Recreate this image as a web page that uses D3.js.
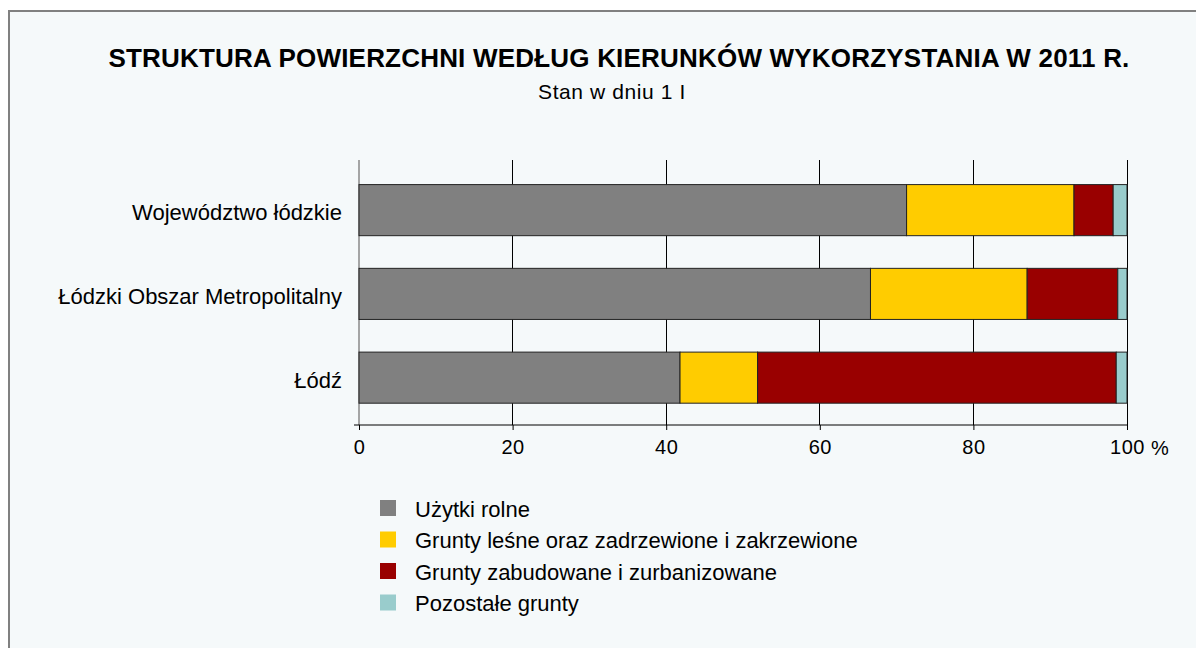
<!DOCTYPE html>
<html>
<head>
<meta charset="utf-8">
<script src="https://cdn.jsdelivr.net/npm/d3@7"></script>
<style>
  html, body { margin: 0; padding: 0; background: #ffffff; }
  svg { display: block; font-family: "Liberation Sans", Arial, sans-serif; }
</style>
</head>
<body>
<svg id="chart" width="1196" height="648"></svg>
<script>
const titleText = "STRUKTURA POWIERZCHNI WEDŁUG KIERUNKÓW WYKORZYSTANIA W 2011 R.";
const subtitleText = "Stan w dniu 1 I";
const categories = ["Województwo łódzkie", "Łódzki Obszar Metropolitalny", "Łódź"];
const seriesNames = [
  "Użytki rolne",
  "Grunty leśne oraz zadrzewione i zakrzewione",
  "Grunty zabudowane i zurbanizowane",
  "Pozostałe grunty"
];
const uzytkiRolne = [71.3, 66.6, 41.8];
const gruntyLesne = [21.8, 20.4, 10.1];
const gruntyZabudowane = [5.1, 11.8, 46.7];
const pozostale = [1.8, 1.2, 1.4];
const tickValues = [0, 20, 40, 60, 80, 100];
const unitLabel = "%";
const colors = ["#808080", "#FFCC00", "#990000", "#99CCCC"];

const svg = d3.select("#chart");

// frame
svg.append("rect")
  .attr("x", 9).attr("y", 11)
  .attr("width", 1196).attr("height", 648)
  .attr("fill", "#f5f9fa")
  .attr("stroke", "#808080").attr("stroke-width", 2);

const plot = { left: 359, right: 1127, top: 160, bottom: 425 };

const x = d3.scaleLinear().domain([0, 100]).range([plot.left, plot.right]);
const y = d3.scaleBand().domain(categories)
  .range([plot.top, plot.bottom])
  .paddingInner(0.39).paddingOuter(0.277).align(0.53);

// title
svg.append("text")
  .attr("x", 619).attr("y", 67)
  .attr("text-anchor", "middle")
  .attr("font-weight", "bold").attr("font-size", 26)
  .attr("letter-spacing", 0.2)
  .attr("fill", "#000")
  .text(titleText);
svg.append("text")
  .attr("x", 612).attr("y", 99)
  .attr("text-anchor", "middle")
  .attr("font-size", 21)
  .attr("letter-spacing", 0.6)
  .attr("fill", "#000")
  .text(subtitleText);

// gridlines
svg.append("g").selectAll("line")
  .data(tickValues.filter(d => d > 0))
  .join("line")
  .attr("x1", d => x(d)).attr("x2", d => x(d))
  .attr("y1", plot.top).attr("y2", plot.bottom)
  .attr("stroke", "#000").attr("stroke-width", 1)
  .attr("shape-rendering", "crispEdges");

// y axis line (at 0)
svg.append("line")
  .attr("x1", x(0)).attr("x2", x(0))
  .attr("y1", plot.top).attr("y2", plot.bottom)
  .attr("stroke", "#888").attr("stroke-width", 1.5);

// stacked bars
const rows = categories.map((c, i) => ({
  cat: c,
  vals: [uzytkiRolne[i], gruntyLesne[i], gruntyZabudowane[i], pozostale[i]]
}));
const stacked = [];
rows.forEach(r => {
  let acc = 0;
  r.vals.forEach((v, k) => {
    stacked.push({ cat: r.cat, k, x0: acc, x1: acc + v });
    acc += v;
  });
});
svg.append("g").selectAll("rect")
  .data(stacked)
  .join("rect")
  .attr("x", d => x(d.x0))
  .attr("y", d => y(d.cat))
  .attr("width", d => x(d.x1) - x(d.x0))
  .attr("height", y.bandwidth())
  .attr("fill", d => colors[d.k])
  .attr("stroke", "#222").attr("stroke-width", 1);

// x axis
const xAxis = d3.axisBottom(x).tickValues(tickValues).tickSize(5).tickSizeOuter(0).tickPadding(10)
  .tickFormat(d3.format("d"));
const gx = svg.append("g").attr("transform", `translate(0,${plot.bottom})`).call(xAxis);
gx.select(".domain").remove();
gx.selectAll(".tick line").attr("stroke", "#000");
gx.selectAll(".tick text").attr("font-size", 20).attr("font-family", "Liberation Sans, Arial, sans-serif")
  .attr("letter-spacing", 0.5).attr("fill", "#000");
svg.append("line")
  .attr("x1", x(0) - 5).attr("x2", x(100))
  .attr("y1", plot.bottom).attr("y2", plot.bottom)
  .attr("stroke", "#000").attr("stroke-width", 1);
svg.append("text")
  .attr("x", x(100) + 24).attr("y", 455)
  .attr("font-size", 20).attr("fill", "#000")
  .text(unitLabel);

// y labels
const yAxis = d3.axisLeft(y).tickSize(0).tickPadding(17);
const gy = svg.append("g").attr("transform", `translate(${plot.left},0)`).call(yAxis);
gy.select(".domain").remove();
gy.selectAll(".tick text").attr("font-size", 22).attr("dy", "0.45em")
  .attr("font-family", "Liberation Sans, Arial, sans-serif").attr("fill", "#000");

// legend
const legend = svg.append("g");
const leg = legend.selectAll("g").data(seriesNames).join("g")
  .attr("transform", (d, i) => `translate(380,${500 + i * 31.5})`);
leg.append("rect").attr("width", 16).attr("height", 16).attr("fill", (d, i) => colors[i]);
leg.append("text").attr("x", 35).attr("y", 16.5).attr("font-size", 22).attr("fill", "#000").text(d => d);
</script>
</body>
</html>
